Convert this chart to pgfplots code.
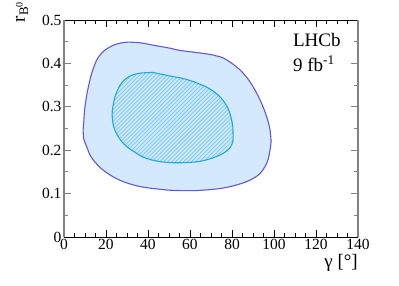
\documentclass[border=0pt]{standalone}
\usepackage{fontspec}
\setmainfont{Liberation Serif}
\usepackage{pgfplots}
\pgfplotsset{compat=1.18}
\usetikzlibrary{patterns.meta}
\definecolor{outerfill}{RGB}{212,232,254}
\definecolor{outerline}{RGB}{95,90,215}
\definecolor{innerline}{RGB}{30,170,225}
\definecolor{hatch}{RGB}{125,205,245}
\definecolor{axgray}{RGB}{130,130,130}
\begin{document}
\begin{tikzpicture}
\begin{axis}[
  scale only axis, width=294pt, height=217pt,
  xmin=0, xmax=140, ymin=0, ymax=0.5,
  xtick={0,20,...,140}, minor x tick num=3,
  ytick={0,0.1,0.2,0.3,0.4,0.5}, minor y tick num=1,
  tick align=inside,
  major tick length=7pt, minor tick length=4pt,
  separate axis lines,
  x axis line style={black, line width=0.9pt},
  y axis line style={axgray, line width=1.6pt},
  xtick style={black, line width=0.8pt},
  ytick style={axgray, line width=0.8pt},
  tick label style={font=\fontsize{15.5}{17}\selectfont},
  /pgf/number format/assume math mode=true,
  yticklabel style={/pgf/number format/fixed, /pgf/number format/precision=1, xshift=1pt},
  xticklabel style={yshift=1pt},
  xlabel={γ [°]},
  xlabel style={at={(axis description cs:1,0)}, anchor=north east, inner sep=0pt, yshift=-17pt, font=\fontsize{19}{21}\selectfont},
  clip=false,
]
\addplot[fill=outerfill, draw=outerline, line width=1.1pt, smooth, tension=0.7] coordinates {
(31.4,0.449) (37,0.447) (42.5,0.442) (50.5,0.435) (55.2,0.430) (66.3,0.423) (72,0.418) (77.5,0.408) (85.4,0.377) (91.8,0.331) (96.5,0.277) (98.4,0.235) (98.1,0.200) (95.7,0.162) (90.1,0.135) (79.0,0.116) (66.3,0.108) (55.2,0.107) (45.7,0.110) (33.0,0.120) (21.9,0.143) (14.0,0.177) (10.8,0.208) (9.3,0.228) (9.1,0.245) (9.4,0.265) (10.0,0.300) (11.6,0.346) (14.0,0.389) (17.1,0.419) (21.9,0.438) (27,0.447) (31.4,0.449)
};
\addplot[pattern={Lines[angle=45,distance=2.8pt,line width=0.9pt]}, pattern color=hatch, draw=innerline, line width=1.1pt, smooth, tension=0.7] coordinates {
(42.5,0.379) (50.5,0.371) (56,0.366) (63.2,0.355) (71.1,0.336) (77.0,0.306) (79.8,0.270) (80.5,0.237) (79.8,0.212) (75.9,0.193) (68.0,0.178) (60,0.172) (48.9,0.172) (40,0.180) (34.5,0.193) (28.2,0.216) (24.3,0.246) (23.0,0.275) (23.4,0.303) (25.2,0.335) (28.8,0.362) (34.6,0.376) (42.5,0.379)
};
\node[anchor=base west, inner sep=0pt, font=\fontsize{19}{21}\selectfont] at (axis cs:109,0.438) {LHCb};
\node[anchor=base west, inner sep=0pt, font=\fontsize{19}{21}\selectfont] at (axis cs:109,0.382) {9 fb\textsuperscript{-1}};
\node[rotate=90, anchor=base east, inner sep=0pt, font=\fontsize{19}{21}\selectfont] at ([xshift=-39pt,yshift=18pt]rel axis cs:0,1) {r\raisebox{-0.35ex}{\fontsize{13}{14}\selectfont B\raisebox{0.9ex}{\fontsize{10}{11}\selectfont 0}}};
\end{axis}
\pgfresetboundingbox
\useasboundingbox ([xshift=-64pt,yshift=-49pt]current axis.south west) rectangle ([xshift=41pt,yshift=20pt]current axis.north east);
\end{tikzpicture}
\end{document}
